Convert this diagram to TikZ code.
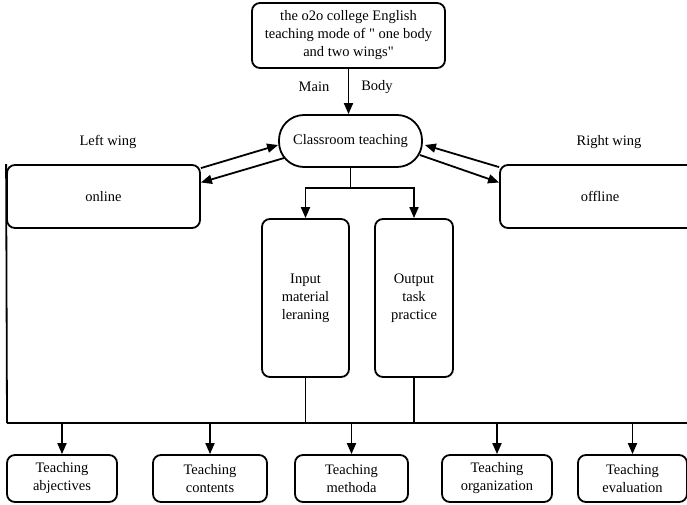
\documentclass[tikz,border=0pt]{standalone}
\usepackage{fontspec}
\setmainfont{Liberation Serif}[Ligatures=TeXOff]
\usetikzlibrary{arrows.meta}

\begin{document}
\begin{tikzpicture}[x=1pt, y=-1pt, align=center,
  every node/.style={font=\fontsize{14.5}{18}\selectfont},
  box/.style={draw, line width=1.8pt, rounded corners=8pt, inner sep=2pt},
  arr/.style={line width=1.8pt, -{Triangle[length=11pt, width=9pt]}},
  ln/.style={line width=1.8pt}]

\clip (0, 0) rectangle (687, 505);

\node[box, minimum width=193pt, minimum height=65pt] (mode) at (348.5, 35.5)
  {the o2o college English\\teaching mode of " one body\\and two wings"};
\node (main) at (314, 87) {Main};
\node (body) at (377, 87) {Body};
\node[box, rounded corners=25pt, minimum width=143pt, minimum height=52pt] (class) at (350.5, 141) {Classroom teaching};

\node (lwing) at (108, 142) {Left wing};
\node (rwing) at (609, 142) {Right wing};
\node[box, minimum width=193pt, minimum height=63pt] (online) at (103.5, 196.5) {online};
\node[box, minimum width=200pt, minimum height=63pt, text width=190pt] (offline) at (600, 196.5) {offline\hspace*{14pt}};

\node[box, minimum width=87pt, minimum height=158pt] (input) at (305.5, 298) {Input\\material\\leraning};
\node[box, minimum width=78pt, minimum height=158pt] (output) at (414, 298) {Output\\task\\practice};

\node[box, minimum width=110pt, minimum height=47pt] (obj) at (62, 478.5) {Teaching\\abjectives};
\node[box, minimum width=114pt, minimum height=47pt] (cont) at (210, 478.5) {Teaching\\contents};
\node[box, minimum width=113pt, minimum height=47pt] (meth) at (351.5, 478.5) {Teaching\\methoda};
\node[box, minimum width=110pt, minimum height=47pt] (org) at (497, 478.5) {Teaching\\organization};
\node[box, minimum width=109pt, minimum height=47pt] (eval) at (632.5, 478.5) {Teaching\\evaluation};

\coordinate (split) at (350.5, 188);
\coordinate (bl) at (7, 423);
\coordinate (br) at (690, 423);

\draw[arr] (mode.south) -- (mode.south |- class.north);
\draw[arr] ([shift={(0, 4)}]online.north east) -- ([shift={(0, 4)}]class.west);
\draw[arr] ([shift={(6, 17)}]class.west) -- ([shift={(0, -14)}]online.east);
\draw[arr] ([shift={(0, 3)}]offline.north west) -- ([shift={(2, 4)}]class.east);
\draw[arr] ([shift={(-3, 14)}]class.east) -- ([shift={(0, -14)}]offline.west);

\draw[ln] (class.south) -- (split);
\draw[arr] (split) -| (input.north);
\draw[arr] (split) -| (output.north);

\draw[ln] (online.north west) -- (bl);
\draw[ln] (bl) -- (br);
\draw[ln] (input.south) -- (input.south |- bl);
\draw[ln] (output.south) -- (output.south |- bl);

\draw[arr] (obj.north |- bl) -- (obj.north);
\draw[arr] (cont.north |- bl) -- (cont.north);
\draw[arr] (meth.north |- bl) -- (meth.north);
\draw[arr] (org.north |- bl) -- (org.north);
\draw[arr] (eval.north |- bl) -- (eval.north);

\end{tikzpicture}
\end{document}
